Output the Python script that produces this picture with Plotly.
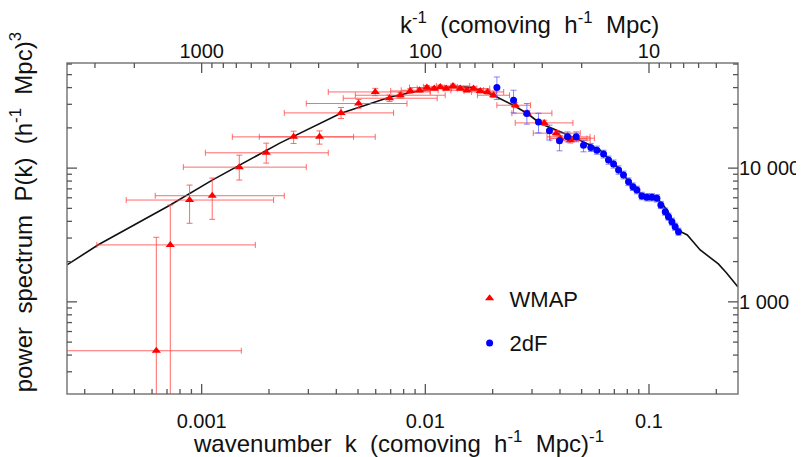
import numpy as np
import plotly.graph_objects as go

# ---------------- data ----------------
# theoretical power spectrum curve
curve_k = [0.00025, 0.000345, 0.000724, 0.001115, 0.002246, 0.004168, 0.006969, 0.00883,
           0.01334, 0.01637, 0.02014, 0.02472, 0.02858, 0.03266, 0.04013, 0.0508, 0.06053,
           0.0721, 0.0824, 0.0942, 0.1089, 0.1205, 0.1337, 0.1483, 0.1694, 0.1879, 0.2042,
           0.2218, 0.25]
curve_P = [1890, 2670, 5300, 8140, 15450, 25600, 34060, 37120,
           40930, 40040, 35080, 29530, 25600, 21570, 18670, 15720, 13630,
           10230, 7690, 6184, 5944, 4864, 3447, 3164, 2444, 2131, 1923,
           1648, 1294]

# WMAP points (red triangles) with error ranges
wmap_k    = [0.000627, 0.000724, 0.000883, 0.001115, 0.001473, 0.001945, 0.002576, 0.003365,
             0.004198, 0.005029, 0.005970, 0.006918, 0.007727, 0.008563, 0.009419, 0.01016,
             0.01096, 0.01166, 0.01240, 0.01329, 0.01432, 0.01535, 0.01643, 0.01761,
             0.01897, 0.02018, 0.02523, 0.02855, 0.03401, 0.03848, 0.04010, 0.04355,
             0.04446, 0.04727]
wmap_P    = [431, 2665, 5772, 6217, 10170, 13020, 17130, 17130,
             25880, 30410, 37120, 33300, 35080, 37760, 38220, 40040,
             39360, 40450, 39360, 41150, 39360, 38220, 39360, 37760,
             37120, 35080, 29530, 25740, 21790, 18260, 16670, 17130,
             16190, 16750]
wmap_k_lo = [0.00024, 0.000340, 0.000460, 0.000620, 0.000828, 0.001039, 0.001371, 0.001810,
             0.002341, 0.002936, 0.003681, 0.004295, 0.004864, 0.00700, 0.00780, 0.00850,
             0.00920, 0.00980, 0.01040, 0.01120, 0.01210, 0.01300, 0.01390, 0.01490,
             0.01610, 0.01710, 0.02089, 0.02438, 0.02523, 0.03038, 0.03618, 0.03500,
             0.03873, 0.04000]
wmap_k_hi = [0.001504, 0.001737, 0.002097, 0.002341, 0.002936, 0.003681, 0.004777, 0.005970,
             0.007211, 0.008279, 0.01052, 0.0113, 0.01227, 0.01050, 0.01140, 0.01220,
             0.01310, 0.01390, 0.01480, 0.01580, 0.01700, 0.01820, 0.01940, 0.02080,
             0.02240, 0.02380, 0.02954, 0.03681, 0.04571, 0.04928, 0.05279, 0.05450,
             0.05458, 0.05700]
wmap_P_lo = [1, 1, 3868, 4143, 8140, 10900, 15290, 15110,
             23500, 28050, 34800, 31500, 33500, 36300, 36800, 38600,
             38000, 39100, 38000, 39800, 38000, 36900, 38000, 36400,
             35700, 33700, 28300, 24600, 20800, 17400, 15900, 16300,
             15400, 16000]
wmap_P_hi = [3040, 5297, 7469, 8425, 12510, 15370, 18890, 18990,
             28400, 32600, 39500, 35200, 36700, 39300, 39700, 41500,
             40800, 41800, 40700, 42500, 40700, 39600, 40700, 39100,
             38500, 36500, 30800, 26900, 22800, 19100, 17500, 18000,
             17000, 17500]

# 2dF points (blue circles) with error ranges
tdf_k    = [0.02089, 0.02480, 0.02844, 0.03206, 0.03589, 0.03981, 0.04322, 0.04727, 0.05097,
            0.05495, 0.05848, 0.06263, 0.06592, 0.06942, 0.07311, 0.07691, 0.08100, 0.08472,
            0.08831, 0.09290, 0.09790, 0.1030, 0.1085, 0.1130, 0.1182, 0.1222, 0.1266,
            0.1309, 0.1355]
tdf_P    = [40040, 32180, 25610, 22170, 18990, 16000, 17130, 17130, 14850,
            14280, 13630, 12730, 11480, 10720, 9667, 8872, 7907, 7255,
            6855, 6184, 6047, 6047, 5943, 5297, 4721, 4335, 3976,
            3648, 3350]
tdf_P_lo = [32580, 25880, 21310, 18350, 16190, 13470, 15720, 15720, 13240,
            13300, 12700, 11900, 10700, 10000, 9000, 8300, 7400, 6800,
            6420, 5800, 5680, 5680, 5580, 4980, 4440, 4080, 3740,
            3430, 3150]
tdf_P_hi = [48030, 38220, 30410, 25740, 20950, 18660, 18660, 18660, 16190,
            15300, 14600, 13600, 12300, 11500, 10400, 9500, 8450, 7750,
            7320, 6600, 6440, 6440, 6330, 5640, 5020, 4610, 4230,
            3880, 3560]

# axis ticks
x_major = [0.001, 0.01, 0.1]
x_major_text = ["0.001", "0.01", "0.1"]
x_minor = [0.0003, 0.0004, 0.0005, 0.0006, 0.0007, 0.0008, 0.0009,
           0.002, 0.003, 0.004, 0.005, 0.006, 0.007, 0.008, 0.009,
           0.02, 0.03, 0.04, 0.05, 0.06, 0.07, 0.08, 0.09, 0.2]
top_major = [1000, 100, 10]
top_major_text = ["1000", "100", "10"]
top_minor = [2000, 3000, 200, 300, 400, 500, 600, 700, 800, 900,
             20, 30, 40, 50, 60, 70, 80, 90, 5, 6, 7, 8, 9]
y_major = [1000, 10000]
y_major_text = ["1 000", "10 000"]
y_minor = [300, 400, 500, 600, 700, 800, 900,
           2000, 3000, 4000, 5000, 6000, 7000, 8000, 9000,
           20000, 30000, 40000, 50000, 60000]

# ---------------- figure ----------------
wk = np.array(wmap_k); wP = np.array(wmap_P)
tk = np.array(tdf_k); tP = np.array(tdf_P)
inv_k = [1.0 / k for k in curve_k]

fig = go.Figure()

fig.add_trace(go.Scatter(
    x=curve_k, y=curve_P, mode="lines",
    line=dict(color="#111111", width=1.6),
    showlegend=False, hoverinfo="skip"))

fig.add_trace(go.Scatter(
    x=wmap_k, y=wmap_P, mode="markers", name="WMAP", legendgroup="a",
    marker=dict(symbol="triangle-up", color="red", size=8),
    error_x=dict(type="data", symmetric=False,
                 array=(np.array(wmap_k_hi) - wk).tolist(),
                 arrayminus=(wk - np.array(wmap_k_lo)).tolist(),
                 color="rgba(255,70,70,0.8)", thickness=1, width=3),
    error_y=dict(type="data", symmetric=False,
                 array=(np.array(wmap_P_hi) - wP).tolist(),
                 arrayminus=(wP - np.array(wmap_P_lo)).tolist(),
                 color="rgba(255,70,70,0.8)", thickness=1, width=3)))

fig.add_trace(go.Scatter(
    x=tdf_k, y=tdf_P, mode="markers", name="2dF", legendgroup="b",
    marker=dict(symbol="circle", color="#0000ff", size=7),
    error_y=dict(type="data", symmetric=False,
                 array=(np.array(tdf_P_hi) - tP).tolist(),
                 arrayminus=(tP - np.array(tdf_P_lo)).tolist(),
                 color="rgba(80,80,255,0.7)", thickness=1, width=3)))

# invisible trace binding the top (1/k) axis
fig.add_trace(go.Scatter(
    x=inv_k, y=curve_P, xaxis="x2", mode="lines",
    line=dict(width=0), opacity=0, showlegend=False, hoverinfo="skip"))

axis_color = "#7a7a7a"
tick_color = "#555555"
tick_font = dict(family="Liberation Sans, Arial, sans-serif", size=20, color="#111")
title_font = dict(family="Liberation Sans, Arial, sans-serif", size=24, color="#111")

xr = [np.log10(0.00025), np.log10(0.25)]
tr = [np.log10(4000), np.log10(4)]
yr = [2.311, 4.786]

# frame and tick marks as shapes placed through the axes
shapes = [dict(type="rect", xref="paper", yref="paper", x0=0, y0=0, x1=1, y1=1,
               line=dict(color=axis_color, width=1.5), layer="above")]

def xtick(v, ref, bottom, length):
    s = 1 if bottom else -1
    return dict(type="line", xref=ref, yref="paper", ysizemode="pixel",
                yanchor=0 if bottom else 1, x0=v, x1=v, y0=0, y1=s * length,
                line=dict(color=tick_color, width=1.3), layer="above")

def ytick(v, left, length):
    s = 1 if left else -1
    return dict(type="line", xref="paper", yref="y", xsizemode="pixel",
                xanchor=0 if left else 1, y0=v, y1=v, x0=0, x1=s * length,
                line=dict(color=tick_color, width=1.3), layer="above")

for v in x_major:
    shapes.append(xtick(v, "x", True, 10))
for v in x_minor:
    shapes.append(xtick(v, "x", True, 5))
for v in top_major:
    shapes.append(xtick(v, "x2", False, 10))
for v in top_minor:
    shapes.append(xtick(v, "x2", False, 5))
for left in (True, False):
    for v in y_major:
        shapes.append(ytick(v, left, 10))
    for v in y_minor:
        shapes.append(ytick(v, left, 5))

fig.update_layout(
    width=796, height=449,
    margin=dict(l=59, r=66, t=55, b=63, autoexpand=False),
    paper_bgcolor="white", plot_bgcolor="white",
    xaxis=dict(type="log", range=xr, side="bottom", showline=False,
               showgrid=False, zeroline=False, ticks="",
               tickmode="array", tickvals=x_major, ticktext=x_major_text,
               tickfont=tick_font, ticklabelstandoff=13),
    xaxis2=dict(type="log", overlaying="x", side="top", range=tr, showline=False,
                showgrid=False, zeroline=False, ticks="",
                tickmode="array", tickvals=top_major, ticktext=top_major_text,
                tickfont=tick_font),
    yaxis=dict(type="log", range=yr, side="right", showline=False,
               showgrid=False, zeroline=False, ticks="",
               tickmode="array", tickvals=y_major, ticktext=y_major_text,
               tickfont=tick_font),
    shapes=shapes,
    legend=dict(x=0.600, y=0.352, xanchor="left", yanchor="top",
                font=dict(family="Liberation Sans, Arial, sans-serif", size=22, color="#111"),
                bgcolor="rgba(0,0,0,0)", tracegroupgap=13, traceorder="grouped"),
    annotations=[
        dict(text="wavenumber  k  (comoving  h<sup>-1</sup>  Mpc)<sup>-1</sup>",
             xref="paper", yref="paper", x=0.494, y=-0.145,
             xanchor="center", yanchor="middle", showarrow=False, font=title_font),
        dict(text="k<sup>-1</sup>  (comoving  h<sup>-1</sup>  Mpc)",
             xref="paper", yref="paper", x=0.69, y=1.12,
             xanchor="center", yanchor="middle", showarrow=False, font=title_font),
        dict(text="power  spectrum  P(k)  (h<sup>-1</sup>  Mpc)<sup>3</sup>",
             xref="paper", yref="paper", x=-0.068, y=0.55, textangle=-90,
             xanchor="center", yanchor="middle", showarrow=False, font=title_font),
    ],
)

fig.write_html("out.html")
